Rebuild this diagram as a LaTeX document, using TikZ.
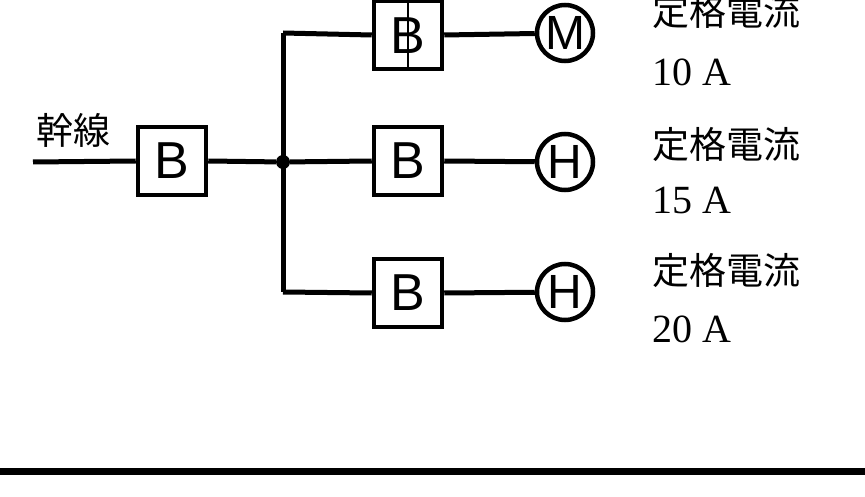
\documentclass[tikz,border=0pt]{standalone}
\usepackage{fontspec}
\setmainfont{Liberation Serif}
\newfontfamily\cjk{Noto Sans CJK JP}
\newfontfamily\lsans{Liberation Sans}
\begin{document}
\begin{tikzpicture}[x=1pt,y=-1pt,
  w/.style={line width=5pt},
  brk/.style={draw,line width=4.5pt,minimum width=68pt,minimum height=68pt,inner sep=0pt,font=\lsans\fontsize{52}{52}\selectfont,fill=white},
  ld/.style={draw,circle,line width=4.5pt,minimum size=56pt,inner sep=0pt,font=\lsans\fontsize{48}{48}\selectfont,fill=white},
  jp/.style={anchor=west,font=\cjk\fontsize{37}{37}\selectfont,inner sep=0pt},
  num/.style={anchor=west,font=\fontsize{40}{40}\selectfont,inner sep=0pt}]
\useasboundingbox (0,0) rectangle (865,497);
\coordinate (feed) at (33,162);
\node[brk] (b0) at (172,161) {B};
\node[circle,fill,inner sep=0pt,minimum size=14pt] (j) at (283,162) {};
\coordinate (t) at (283,33);
\coordinate (bt) at (283,292);
\node[brk] (b1) at (408,35) {};
\node[brk] (b2) at (408,161) {B};
\node[brk] (b3) at (408,293) {B};
\node[ld] (m) at (565,33) {M};
\node[ld] (h1) at (565,162) {H};
\node[ld] (h2) at (565,292) {H};
\draw[w] (feed) -- (b0.west);
\draw[w] (b0.east) -- (j);
\draw[w] (t) -- (bt);
\draw[w] (t) -- (b1.west);
\draw[w] (j) -- (b2.west);
\draw[w] (bt) -- (b3.west);
\draw[w] (b1.east) -- (m);
\draw[w] (b2.east) -- (h1);
\draw[w] (b3.east) -- (h2);
\node[font=\lsans\fontsize{52}{52}\selectfont,inner sep=0pt] (bl) at (408,36) {B};
\draw[line width=2pt] (b1.north) -- (b1.south);
\node[jp] (tr) at (36,130) {幹線};
\node[jp] (l1) at (652,12) {定格電流};
\node[num] (n1) at (652,72) {10 A};
\node[jp] (l2) at (652,145) {定格電流};
\node[num] (n2) at (652,200) {15 A};
\node[jp] (l3) at (652,271) {定格電流};
\node[num] (n3) at (652,329) {20 A};
\coordinate (s1) at (0,471);
\coordinate (s2) at (865,471);
\draw[line width=7pt] (s1) -- (s2);
\end{tikzpicture}
\end{document}
